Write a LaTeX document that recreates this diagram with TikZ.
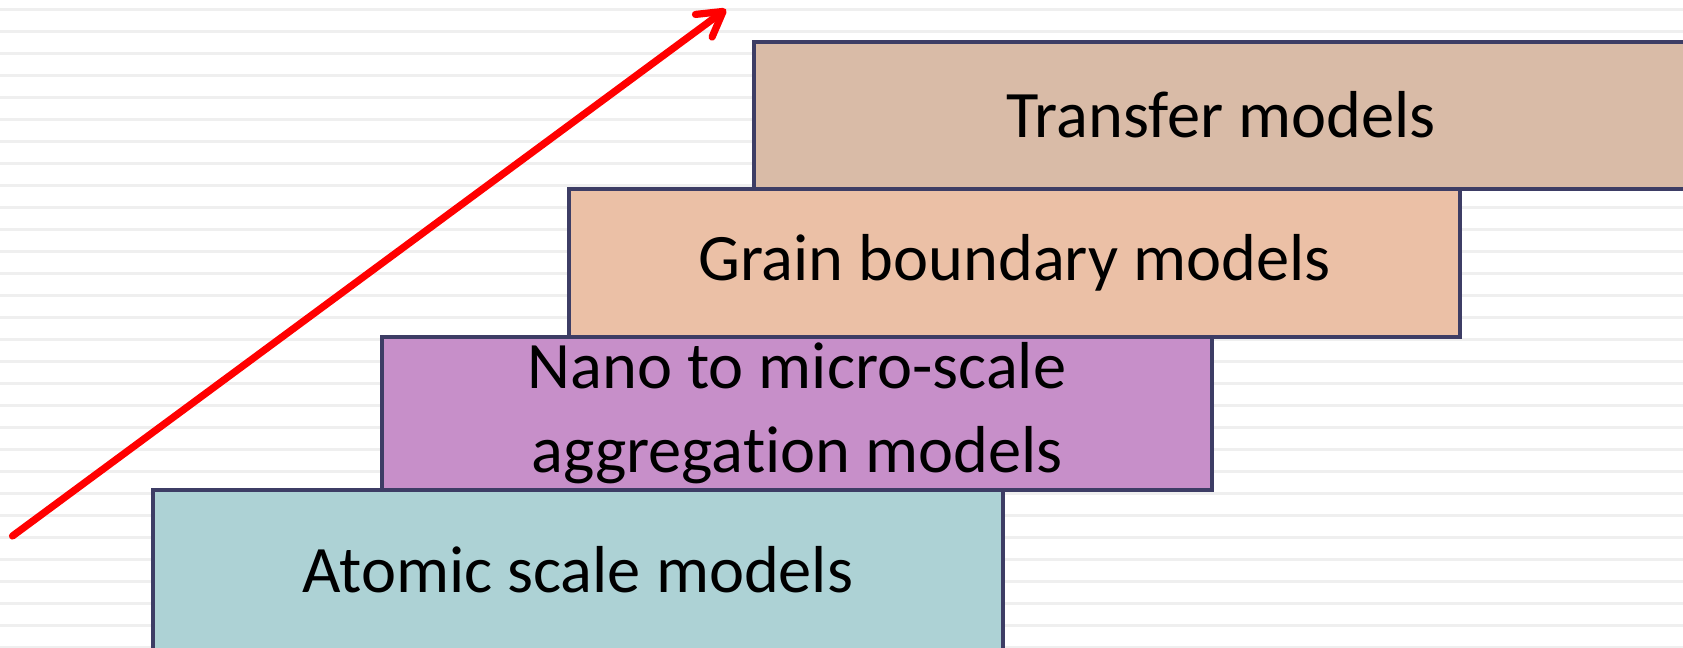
\documentclass[tikz,border=0pt]{standalone}
\usepackage{fontspec}
\setmainfont{Carlito}[RawFeature=-liga]
\usetikzlibrary{arrows.meta}
\definecolor{bordercol}{HTML}{3D3D65}
\definecolor{transfercol}{HTML}{D9BBA7}
\definecolor{graincol}{HTML}{EBC0A6}
\definecolor{nanocol}{HTML}{C78FC9}
\definecolor{atomiccol}{HTML}{ADD2D5}
\definecolor{stripecol}{HTML}{EFEFEF}
\tikzset{
  stepbox/.style={draw=bordercol, line width=2pt, rectangle, anchor=north west,
    inner sep=0pt, align=center, font=\fontsize{33.2pt}{42pt}\selectfont},
  stripe/.style={draw=stripecol, line width=1.7pt},
  risearrow/.style={draw=red, line width=3.6pt, line cap=round,
    -{Straight Barb[length=12pt, width=14pt, round]}}
}
\begin{document}
\begin{tikzpicture}[x=0.5pt, y=-0.5pt]
\useasboundingbox (0,0) rectangle (1683,648);
\clip (0,0) rectangle (1683,648);
\fill[white] (0,0) rectangle (1683,648);
\foreach \k in {0,...,29} {
  \draw[stripe] (0,{9.3+22*\k}) -- (1683,{9.3+22*\k});
}
\node[stepbox, fill=transfercol, minimum width=467pt, minimum height=73.5pt] (transfer) at (752,39.5) {Transfer models};
\node[stepbox, fill=graincol, minimum width=445.5pt, minimum height=74pt] (grain) at (567,187) {Grain boundary models};
\node[stepbox, fill=nanocol, minimum width=415pt, minimum height=76.5pt] (nano) at (380,335) {Nano to micro-scale\\aggregation models};
\node[stepbox, fill=atomiccol, minimum width=425pt, minimum height=80pt] (atomic) at (151,488) {Atomic scale models};
\coordinate (arrowstart) at (12.5,536);
\coordinate (arrowend) at (726,9.3);
\draw[risearrow] (arrowstart) -- (arrowend);
\end{tikzpicture}
\end{document}
